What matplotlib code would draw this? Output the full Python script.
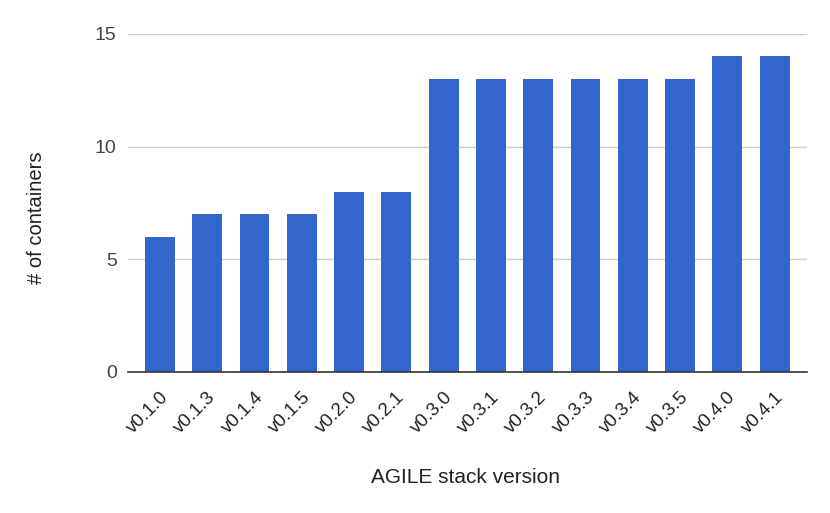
import matplotlib
matplotlib.use("Agg")
import matplotlib.pyplot as plt
from matplotlib.transforms import ScaledTranslation

versions = ["v0.1.0", "v0.1.3", "v0.1.4", "v0.1.5", "v0.2.0", "v0.2.1", "v0.3.0",
            "v0.3.1", "v0.3.2", "v0.3.3", "v0.3.4", "v0.3.5", "v0.4.0", "v0.4.1"]
containers = [6, 7, 7, 7, 8, 8, 13, 13, 13, 13, 13, 13, 14, 14]
yticks = [0, 5, 10, 15]

plt.rcParams['font.family'] = ['Liberation Sans', 'DejaVu Sans']

fig = plt.figure(figsize=(8.3, 5.13), dpi=100)
ax = fig.add_axes([0.154, 0.275, 0.818, 0.659])

x = list(range(len(versions)))
ax.bar(x, containers, width=0.63, color="#3366CC", zorder=3)

ax.set_xlim(-0.68, len(versions) - 1 + 0.68)
ax.set_ylim(0, 15)
ax.set_yticks(yticks)
ax.set_yticklabels([str(t) for t in yticks], fontsize=14, color="#444444")
ax.set_xticks(x)
ax.set_xticklabels(versions, rotation=45, ha="right", rotation_mode="anchor",
                   fontsize=13.5, color="#222222")
offset = ScaledTranslation(10 / 100, 0, fig.dpi_scale_trans)
for lbl in ax.get_xticklabels():
    lbl.set_transform(lbl.get_transform() + offset)
ax.tick_params(axis="both", length=0)
ax.tick_params(axis="y", pad=8)
ax.tick_params(axis="x", pad=12)

ax.grid(axis="y", color="#cccccc", linewidth=1, zorder=0)
for s in ["top", "right", "left"]:
    ax.spines[s].set_visible(False)
ax.spines["bottom"].set_color("#333333")
ax.spines["bottom"].set_linewidth(1.2)
ax.spines["bottom"].set_zorder(4)

ax.set_xlabel("AGILE stack version", fontsize=15, color="#222222", va="center")
ax.set_ylabel("# of containers", fontsize=14.5, color="#222222", va="center")
ax.xaxis.set_label_coords(0.498, -0.311)
ax.yaxis.set_label_coords(-0.135, 0.456)

fig.savefig("out.png", dpi=100, facecolor="white")
